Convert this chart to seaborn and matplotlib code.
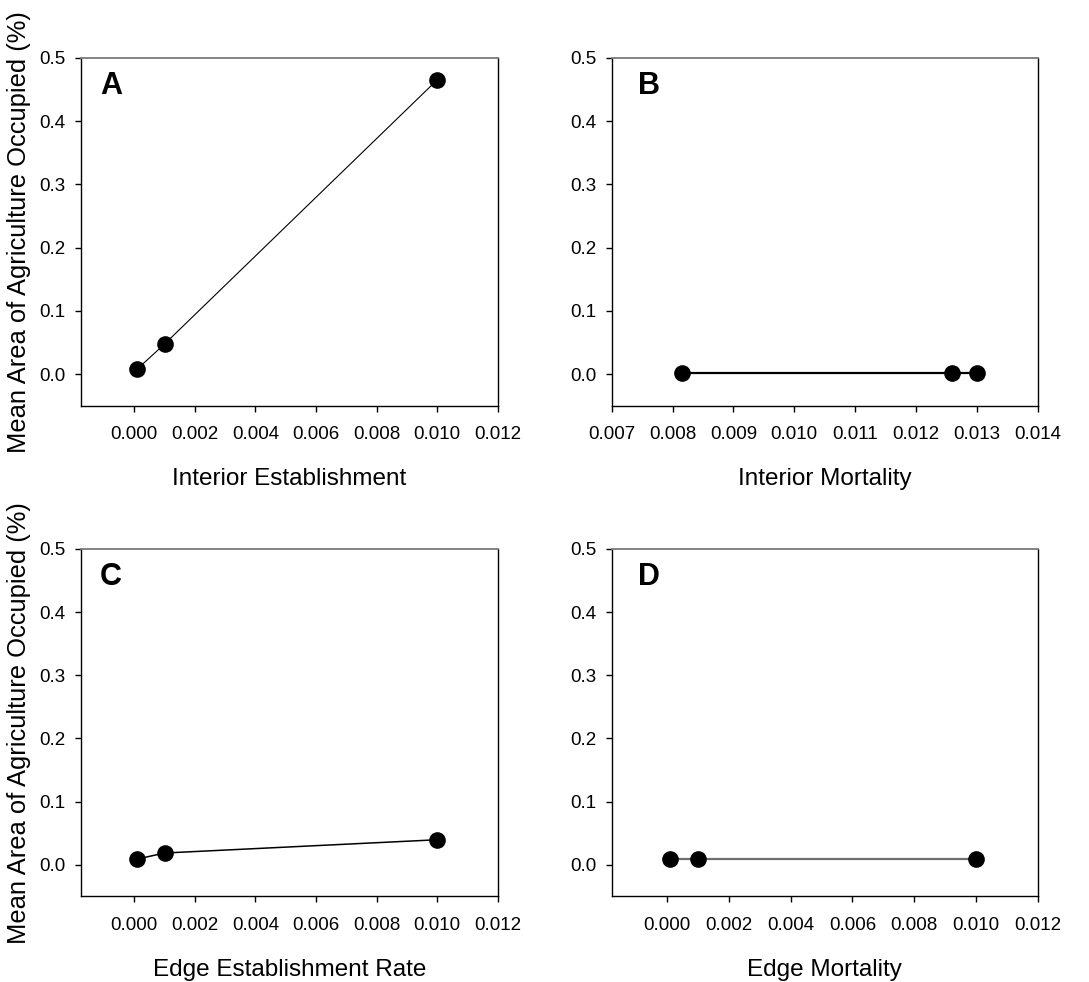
import matplotlib
matplotlib.use("Agg")
import matplotlib.pyplot as plt
import seaborn as sns

# Panel A: interior establishment
int_est_x = [0.0001, 0.001, 0.010]
int_est_y = [0.008, 0.0475, 0.465]

# Panel B: interior mortality
int_mort_x = [0.00816, 0.01259, 0.0130]
int_mort_y = [0.001, 0.001, 0.001]

# Panel C: edge establishment rate
edge_est_x = [0.0001, 0.001, 0.010]
edge_est_y = [0.009, 0.0185, 0.0395]

# Panel D: edge mortality
edge_mort_x = [0.0001, 0.001, 0.010]
edge_mort_y = [0.009, 0.009, 0.009]

panel_letters = ["A", "B", "C", "D"]
x_labels = ["Interior Establishment", "Interior Mortality",
            "Edge Establishment Rate", "Edge Mortality"]
y_label = "Mean Area of Agriculture Occupied (%)"
y_ticks = [0.0, 0.1, 0.2, 0.3, 0.4, 0.5]
x_ticks_rate = [0.000, 0.002, 0.004, 0.006, 0.008, 0.010, 0.012]
x_ticks_mort = [0.007, 0.008, 0.009, 0.010, 0.011, 0.012, 0.013, 0.014]

sns.set_style("ticks")
plt.rcParams["font.family"] = ["Liberation Sans", "DejaVu Sans"]
plt.rcParams["text.color"] = "black"
plt.rcParams["axes.labelcolor"] = "black"

fig = plt.figure(figsize=(10.89, 9.82), dpi=100)
positions = [
    [0.0741, 0.5869, 0.3830, 0.3543],
    [0.5617, 0.5869, 0.3912, 0.3543],
    [0.0741, 0.0873, 0.3830, 0.3537],
    [0.5617, 0.0873, 0.3912, 0.3537],
]
series = [
    (int_est_x, int_est_y, "black", 0.8),
    (int_mort_x, int_mort_y, "black", 1.6),
    (edge_est_x, edge_est_y, "black", 1.1),
    (edge_mort_x, edge_mort_y, "#6e6e6e", 1.6),
]
xlims = [(-0.00177, 0.012), (0.007, 0.014), (-0.00177, 0.012), (-0.0018, 0.012)]
xticks = [x_ticks_rate, x_ticks_mort, x_ticks_rate, x_ticks_rate]
letter_x = [0.046, 0.0625, 0.046, 0.0625]

for i, pos in enumerate(positions):
    ax = fig.add_axes(pos)
    xs, ys, col, lw = series[i]
    sns.lineplot(x=xs, y=ys, ax=ax, color=col, linewidth=lw, marker="o",
                 markersize=12, markerfacecolor="black",
                 markeredgecolor="black", markeredgewidth=0, sort=False)
    ax.set_xlim(*xlims[i])
    ax.set_ylim(-0.05, 0.5)
    ax.set_xticks(xticks[i])
    ax.set_xticklabels([f"{t:.3f}" for t in xticks[i]])
    ax.set_yticks(y_ticks)
    ax.set_yticklabels([f"{t:.1f}" for t in y_ticks])
    ax.tick_params(axis="x", direction="out", length=4, width=1,
                   pad=11, labelsize=13.5, colors="black")
    ax.tick_params(axis="y", direction="out", length=4, width=1,
                   pad=7, labelsize=13.5, colors="black")
    for side in ["left", "bottom", "right"]:
        ax.spines[side].set_color("black")
        ax.spines[side].set_linewidth(1)
        ax.spines[side].set_visible(True)
    ax.spines["top"].set_visible(True)
    ax.spines["top"].set_color("#7a7a7a")
    ax.spines["top"].set_linewidth(1.3)
    ax.set_xlabel(x_labels[i], fontsize=17.5, labelpad=18)
    if i % 2 == 0:
        ax.set_ylabel(y_label, fontsize=18.4, labelpad=6)
    else:
        ax.set_ylabel("")
    ax.text(letter_x[i], 0.962, panel_letters[i],
            transform=ax.transAxes, fontsize=22, fontweight="bold",
            va="top", ha="left", color="black")

fig.savefig("out.png", dpi=100)
